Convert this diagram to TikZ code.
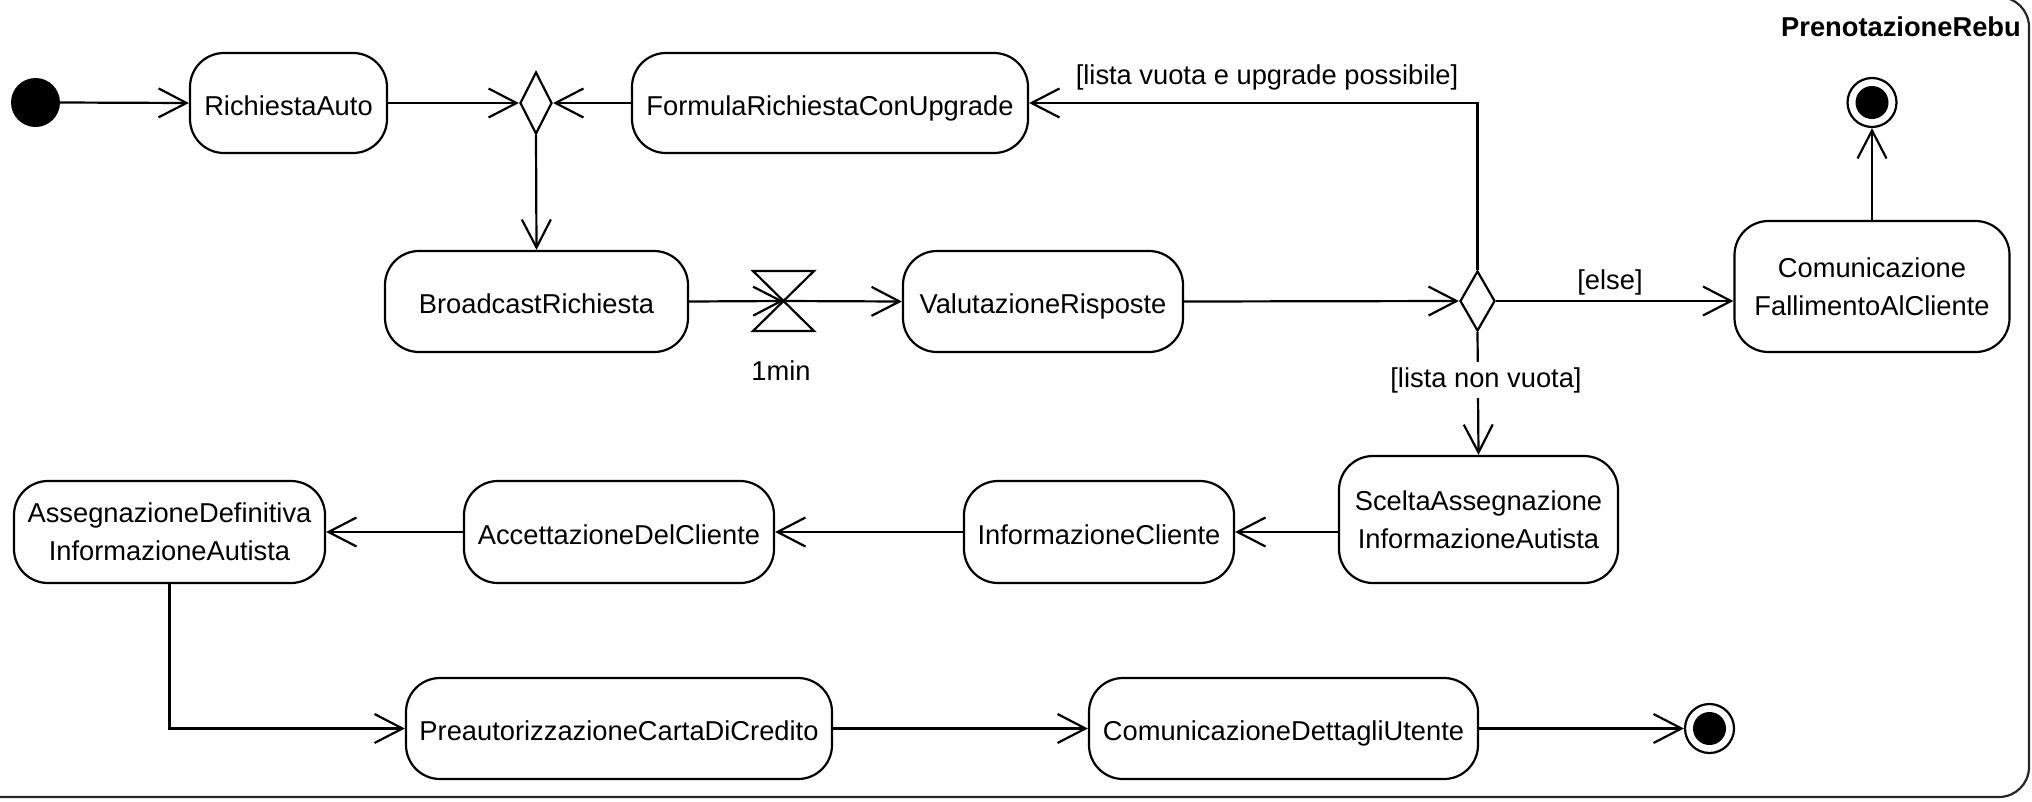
\documentclass[tikz,border=0pt]{standalone}
\usepackage{fontspec}
\setmainfont{Liberation Sans}
\usetikzlibrary{arrows.meta,shapes.geometric}
\begin{document}
\begin{tikzpicture}[x=1pt,y=-1pt,
  every node/.style={font=\fontsize{27.3pt}{38pt}\selectfont},
  act/.style={draw, rounded corners=34pt, line width=2.2pt, inner sep=0pt, text height=24pt, text depth=0pt},
  acttwo/.style={draw, rounded corners=34pt, line width=2.2pt, inner sep=0pt, align=center},
  dec/.style={draw, diamond, line width=2.2pt, inner sep=0pt},
  arr/.style={line width=2.2pt, -{Straight Barb[length=28pt,width=29pt]}},
  ln/.style={line width=2.2pt},
  lbl/.style={anchor=base, inner sep=0pt},
  finalnode/.style={circle, draw, line width=2.2pt, minimum size=49pt, inner sep=0pt}
]
\useasboundingbox (0,0) rectangle (2032,801);
\begin{scope}
\clip (0,0) rectangle (2032,801);
\draw[line width=2.2pt, black!85, rounded corners=30pt] (-100,-3) rectangle (2029,797);
\end{scope}

\node[lbl, font=\bfseries\fontsize{27.3pt}{38pt}\selectfont] (title) at (1901,36) {PrenotazioneRebu};

\node[circle, fill, minimum size=49pt, inner sep=0pt] (init) at (35.5,102.5) {};
\node[act, minimum width=197pt, minimum height=100pt] (ra) at (288.5,103) {RichiestaAuto};
\node[dec, minimum width=32pt, minimum height=62pt] (d1) at (536,103) {};
\node[act, minimum width=396pt, minimum height=100pt] (fr) at (830,103) {FormulaRichiestaConUpgrade};
\node[act, minimum width=303pt, minimum height=101pt] (br) at (536.5,301.5) {BroadcastRichiesta};
\coordinate (hg) at (783.5,301);
\node[lbl] (tmin) at (781,380) {1min};
\node[act, minimum width=280pt, minimum height=101pt] (vr) at (1043,301.5) {ValutazioneRisposte};
\node[dec, minimum width=35pt, minimum height=60pt] (d2) at (1477.5,301) {};
\node[acttwo, minimum width=275pt, minimum height=131pt] (cf) at (1872,286.5) {Comunicazione\\FallimentoAlCliente};
\node[finalnode] (f1) at (1872,102.5) {};
\fill (f1.center) circle (16.5pt);
\node[acttwo, minimum width=279pt, minimum height=127pt] (sc) at (1478.5,519.5) {SceltaAssegnazione\\InformazioneAutista};
\node[act, minimum width=270pt, minimum height=102pt] (ic) at (1099,532) {InformazioneCliente};
\node[act, minimum width=310pt, minimum height=102pt] (ac) at (619,532) {AccettazioneDelCliente};
\node[acttwo, minimum width=311pt, minimum height=102pt] (ad) at (169.5,532) {AssegnazioneDefinitiva\\InformazioneAutista};
\node[act, minimum width=426pt, minimum height=101pt] (pa) at (619,728.5) {PreautorizzazioneCartaDiCredito};
\node[act, minimum width=389pt, minimum height=101pt] (cd) at (1283.5,728.5) {ComunicazioneDettagliUtente};
\node[finalnode] (f2) at (1709.5,728.5) {};
\fill (f2.center) circle (16.5pt);

\draw[arr] (init.east) -- (ra.west);
\draw[arr] (ra.east) -- (d1.west);
\draw[arr] (fr.west) -- (d1.east);
\draw[arr] (d1.south) -- (br.north);
\draw[arr] (br.east) -- (hg);
\draw[ln, line join=miter] (hg) ++(-30.5,-30) -- ++(61,0) -- ++(-61,60) -- ++(61,0) -- cycle;
\draw[arr] (hg) -- (vr.west);
\draw[arr] (vr.east) -- (d2.west);
\draw[arr] (d2.east) -- (cf.west |- d2.east);
\draw[arr] (d2.north) |- (fr.east);
\draw[arr] (cf.north) -- (f1.south);
\draw[arr] (d2.south) -- (sc.north);
\draw[arr] (sc.west |- ic.east) -- (ic.east);
\draw[arr] (ic.west) -- (ac.east);
\draw[arr] (ac.west) -- (ad.east);
\draw[arr] (ad.south) |- (pa.west);
\draw[arr] (pa.east) -- (cd.west);
\draw[arr] (cd.east) -- (f2.west);

\node[lbl] (l1) at (1267,84) {[lista vuota e upgrade possibile]};
\node[lbl] (l2) at (1610,289) {[else]};
\node[lbl, fill=white, inner sep=5pt] (l3) at (1486,387) {[lista non vuota]};
\end{tikzpicture}
\end{document}
